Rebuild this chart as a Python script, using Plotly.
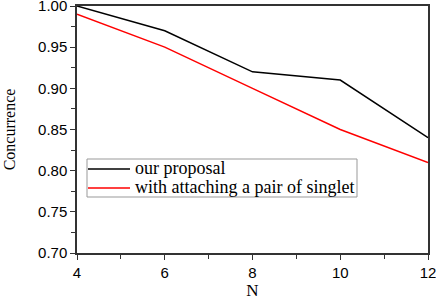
import plotly.graph_objects as go

N = [4, 6, 8, 10, 12]
ours = [1.00, 0.97, 0.92, 0.91, 0.84]
singlet = [0.99, 0.95, 0.90, 0.85, 0.81]
names = ["our proposal", "with attaching a pair of singlet"]
colors = ["black", "red"]
y_ticks = [0.70, 0.75, 0.80, 0.85, 0.90, 0.95, 1.00]
x_ticks = [4, 6, 8, 10, 12]

serif = "Liberation Serif, Times New Roman, serif"
sans = "Liberation Sans, Arial, sans-serif"

fig = go.Figure()
for ys, nm, c in zip([ours, singlet], names, colors):
    fig.add_trace(go.Scatter(x=N, y=ys, mode="lines", name=nm,
                             line=dict(color=c, width=1.5), showlegend=False))

axis_common = dict(showline=True, linecolor="#333333", linewidth=1.5, mirror=True,
                   ticks="outside", ticklen=5, tickwidth=1.2, tickcolor="#333333",
                   showgrid=False, zeroline=False, ticklabeloverflow="allow",
                   automargin=False,
                   tickfont=dict(family=sans, size=15, color="black"))

fig.update_xaxes(range=[4, 12], tickvals=x_ticks,
                 title=dict(text="N", font=dict(family=serif, size=17, color="black"), standoff=10),
                 minor=dict(ticks="outside", ticklen=4, tickwidth=1, tickcolor="#333333", dtick=1, showgrid=False),
                 **axis_common)
fig.update_yaxes(range=[0.70, 1.00], tickvals=y_ticks, tickformat=".2f",
                 title=dict(text="Concurrence", font=dict(family=serif, size=16, color="black"), standoff=18),
                 minor=dict(ticks="outside", ticklen=4, tickwidth=1, tickcolor="#333333", dtick=0.025, showgrid=False),
                 **axis_common)

# manual legend (paper coordinates)
px0, pw, py1, ph = 77, 351, 253, 247
def PX(p): return (p - px0) / pw
def PY(p): return (py1 - p) / ph

shapes = [dict(type="rect", xref="paper", yref="paper",
               x0=PX(87), x1=PX(357), y0=PY(197), y1=PY(159),
               line=dict(color="#999999", width=1), fillcolor="white", layer="above")]
annotations = []
for i, (nm, c) in enumerate(zip(names, colors)):
    yy = [169, 188][i]
    shapes.append(dict(type="line", xref="paper", yref="paper",
                       x0=PX(88), x1=PX(130), y0=PY(yy), y1=PY(yy),
                       line=dict(color=c, width=1.5), layer="above"))
    annotations.append(dict(xref="paper", yref="paper", x=PX(133), y=PY(yy - 1),
                            xanchor="left", yanchor="middle", text=nm, showarrow=False,
                            font=dict(family=serif, size=18, color="black")))

fig.update_layout(
    width=436, height=300, autosize=False,
    margin=dict(l=77, r=8, t=6, b=47, pad=0, autoexpand=False),
    plot_bgcolor="white", paper_bgcolor="white",
    shapes=shapes, annotations=annotations,
    showlegend=False,
)

fig.write_html("out.html",
               config={"displayModeBar": False, "responsive": False},
               post_script="document.body.style.margin='0';document.body.style.padding='0';document.body.style.overflow='hidden';")
